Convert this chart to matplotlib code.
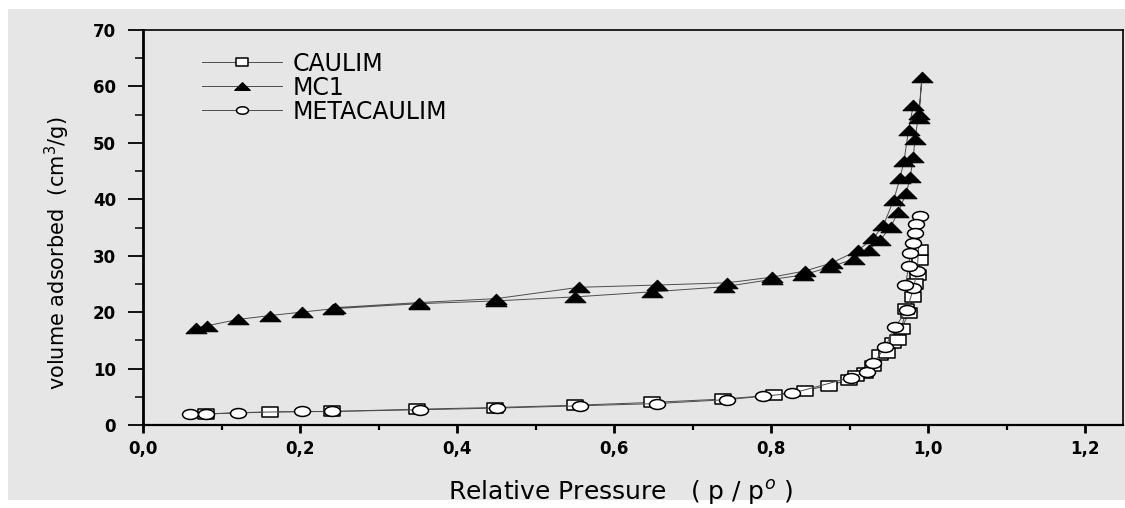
import matplotlib
matplotlib.use('Agg')
import matplotlib.pyplot as plt
from matplotlib.path import Path
from matplotlib.transforms import Affine2D
from matplotlib.patches import Rectangle
from matplotlib.ticker import MultipleLocator

# CAULIM (squares): adsorption then desorption
caulim_p = [0.080, 0.162, 0.241, 0.349, 0.448, 0.550, 0.648, 0.739, 0.803, 0.843, 0.873, 0.899,
            0.920, 0.939, 0.955, 0.966, 0.975, 0.981, 0.987, 0.990,
            0.990, 0.983, 0.972, 0.962, 0.948, 0.930, 0.908]
caulim_v = [1.95, 2.3, 2.4, 2.8, 3.1, 3.5, 4.0, 4.6, 5.3, 6.1, 7.0, 8.0,
            9.3, 12.4, 14.5, 17.1, 19.8, 22.7, 26.5, 29.2,
            31.0, 25.0, 20.5, 15.1, 12.8, 10.4, 8.6]

# MC1 (triangles)
mc1_p = [0.068, 0.082, 0.121, 0.162, 0.202, 0.242, 0.352, 0.450, 0.550, 0.648, 0.740, 0.801,
         0.841, 0.875, 0.905, 0.924, 0.939, 0.952, 0.962, 0.972, 0.977, 0.981, 0.983, 0.988, 0.992,
         0.988, 0.981, 0.975, 0.969, 0.964, 0.956, 0.943, 0.930, 0.911, 0.877, 0.843, 0.801,
         0.744, 0.654, 0.555, 0.450, 0.352, 0.245]
mc1_v = [17.2, 17.6, 18.7, 19.4, 20.0, 20.6, 21.5, 22.0, 22.7, 23.6, 24.5, 25.8,
         26.6, 28.0, 29.4, 31.0, 32.8, 35.1, 37.8, 41.1, 43.9, 47.5, 50.6, 55.2, 61.7,
         54.4, 56.7, 52.3, 46.7, 43.7, 39.9, 35.4, 33.1, 31.0, 28.7, 27.3, 26.2,
         25.2, 24.8, 24.4, 22.4, 21.7, 20.8]

# METACAULIM (circles)
meta_p = [0.060, 0.080, 0.121, 0.202, 0.241, 0.353, 0.451, 0.556, 0.654, 0.744, 0.790, 0.826,
          0.901, 0.922, 0.930, 0.945, 0.958, 0.973, 0.981, 0.986, 0.990,
          0.985, 0.983, 0.981, 0.977, 0.975, 0.971]
meta_v = [1.95, 1.95, 2.2, 2.4, 2.4, 2.7, 3.0, 3.4, 3.8, 4.5, 5.1, 5.6,
          8.4, 9.4, 10.9, 13.8, 17.4, 20.4, 24.2, 27.3, 37.1,
          35.6, 34.0, 32.3, 30.4, 28.1, 24.8]

xticks = [0.0, 0.2, 0.4, 0.6, 0.8, 1.0, 1.2]
xtick_labels = ['0,0', '0,2', '0,4', '0,6', '0,8', '1,0', '1,2']
yticks = [0, 10, 20, 30, 40, 50, 60, 70]
ytick_labels = ['0', '10', '20', '30', '40', '50', '60', '70']

bg = '#e6e6e6'
line_col = '#4d4d4d'

# wide markers (the original picture is stretched sideways)
tri = Path([(-1, -0.5), (1, -0.5), (0, 0.5), (-1, -0.5)], closed=True)
sq = Path([(-1, -0.65), (1, -0.65), (1, 0.65), (-1, 0.65), (-1, -0.65)], closed=True)
ell = Path.unit_circle().transformed(Affine2D().scale(1, 0.62))

fig = plt.figure(figsize=(11.25, 5.08), dpi=100, facecolor='white')
fig.patches.append(Rectangle((8/1125, 8/508), 1 - 8/1125, 491/508, transform=fig.transFigure,
                             facecolor=bg, edgecolor='none', zorder=-10))
ax = fig.add_axes([143/1125, 83/508, 980/1125, 395/508])
ax.set_facecolor(bg)

ax.plot(caulim_p, caulim_v, color=line_col, lw=0.7, marker=sq, ms=11,
        mfc='white', mec='black', mew=1.1, label='CAULIM')
ax.plot(mc1_p, mc1_v, color=line_col, lw=0.7, marker=tri, ms=15,
        mfc='black', mec='black', mew=0.8, label='MC1')
ax.plot(meta_p, meta_v, color=line_col, lw=0.7, marker=ell, ms=11.5,
        mfc='white', mec='black', mew=1.1, label='METACAULIM')

ax.set_xlim(0, 1.248)
ax.set_ylim(0, 70)
ax.set_xticks(xticks)
ax.set_xticklabels(xtick_labels)
ax.set_yticks(yticks)
ax.set_yticklabels(ytick_labels)
ax.xaxis.set_minor_locator(MultipleLocator(0.1))
ax.yaxis.set_minor_locator(MultipleLocator(5))
ax.tick_params(axis='x', which='major', direction='out', length=6, width=2, pad=5,
               labelsize=12)
ax.tick_params(axis='x', which='minor', direction='out', length=3.5, width=1.6)
ax.tick_params(axis='y', which='major', direction='out', length=10.5, width=1.3, pad=9,
               labelsize=12)
ax.tick_params(axis='y', which='minor', direction='out', length=5.5, width=1.1)
for lab in ax.get_xticklabels() + ax.get_yticklabels():
    lab.set_fontweight('bold')

ax.spines['left'].set_linewidth(2.0)
ax.spines['bottom'].set_linewidth(1.6)
ax.spines['top'].set_linewidth(1.2)
ax.spines['right'].set_linewidth(1.2)

ax.set_xlabel('Relative Pressure   ( p / p$^{o}$ )', fontsize=18)
ax.xaxis.set_label_coords(0.487, -0.135)
ax.set_ylabel('volume adsorbed  (cm$^{3}$/g)', fontsize=15)
ax.yaxis.set_label_coords(-0.072, 0.435)

ax.legend(loc='upper left', bbox_to_anchor=(0.060, 0.945), frameon=False, fontsize=17,
          handlelength=3.4, handletextpad=0.45, labelspacing=0.0, borderpad=0,
          borderaxespad=0, markerscale=0.75)

fig.savefig('out.png', dpi=100, facecolor=fig.get_facecolor())
